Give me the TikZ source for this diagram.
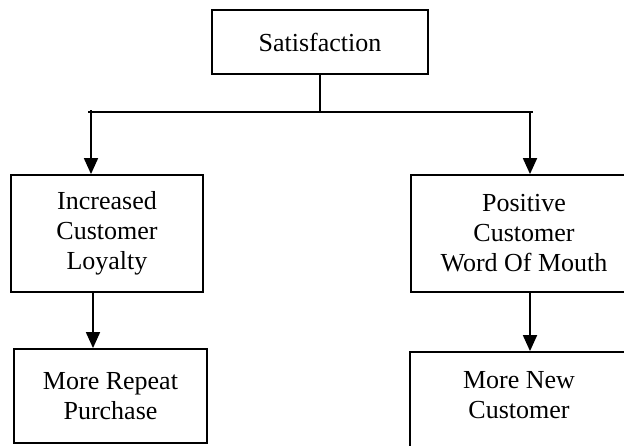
\documentclass[tikz,border=0pt]{standalone}
\usepackage{fontspec}
\setmainfont{Liberation Serif}
\usetikzlibrary{arrows.meta}
\begin{document}
\begin{tikzpicture}[x=1pt,y=-1pt,
  box/.style={draw=black,line width=1.8pt,rectangle,inner sep=0pt,align=center,
    font=\fontsize{26}{30}\selectfont},
  conn/.style={line width=1.8pt},
  arr/.style={line width=1.8pt,-{Triangle[length=16pt,width=14pt]}}]
\useasboundingbox (0,0) rectangle (624,445);
\clip (0,0) rectangle (624,445);
\fill[white] (0,0) rectangle (624,445);
\node[box,minimum width=216pt,minimum height=64pt] (sat) at (320,42) {Satisfaction};
\node[box,minimum width=192pt,minimum height=117pt] (il) at (107,233.5) {Increased\\Customer\\Loyalty};
\node[box,minimum width=226pt,minimum height=117pt] (pw) at (524,233.5) {Positive\\Customer\\Word Of Mouth};
\node[box,minimum width=193pt,minimum height=94pt] (rp) at (110.5,396) {More Repeat\\Purchase};
\node[box,minimum width=227pt,minimum height=120pt] (nc) at (523.5,412) {};
\node[font=\fontsize{26}{30}\selectfont,align=center,inner sep=0pt] (nct) at (519,395) {More New\\Customer};
\coordinate (hj) at (320,112);
\coordinate (hl) at (88,112);
\coordinate (hr) at (533,112);
\coordinate (tl) at (91,110);
\coordinate (tr) at (530,112);
\draw[conn] (sat.south) -- (hj);
\draw[conn] (hl) -- (hr);
\draw[arr] (tl) -- (tl |- il.north);
\draw[arr] (tr) -- (tr |- pw.north);
\draw[arr] (93,0 |- il.south) -- (93,0 |- rp.north);
\draw[arr] (530,0 |- pw.south) -- (530,0 |- nc.north);
\end{tikzpicture}
\end{document}
